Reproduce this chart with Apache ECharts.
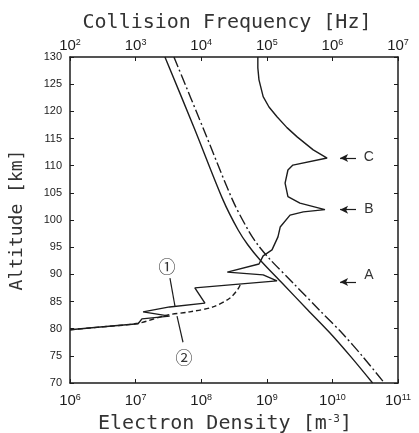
<!DOCTYPE html>
<html>
<head>
<meta charset="utf-8">
<script src="https://cdn.jsdelivr.net/npm/echarts/dist/echarts.min.js"></script>
<style>html,body{margin:0;padding:0;background:#fff}#main{width:419px;height:433px}</style>
</head>
<body>
<div id="main"></div>
<script>
// ---- data ----
const altitudeRange = [70, 130];
const altitudeStep = 5;
const densityRange = [1e6, 1e11];
const frequencyRange = [1e2, 1e7];

// electron density profile (1), solid
const profAlt = [130.0, 128.0, 125.8, 122.7, 120.8, 119.0, 117.0, 115.3, 112.9, 111.4, 110.1, 109.2, 106.8, 104.3, 103.1, 101.9, 101.5, 100.9, 98.7, 96.9, 94.5, 93.4, 91.9, 90.4, 89.9, 88.8, 87.5, 84.7, 84.0, 83.1, 82.3, 81.8, 80.9, 80.3, 79.8];
const profDen = [7.3e8, 7.3e8, 7.6e8, 8.8e8, 1.08e9, 1.43e9, 2.03e9, 2.9e9, 5.1e9, 8.3e9, 2.5e9, 2.1e9, 1.9e9, 2.1e9, 3.2e9, 7.7e9, 3.6e9, 2.26e9, 1.6e9, 1.48e9, 1.2e9, 8.8e8, 7.6e8, 2.5e8, 8.8e8, 1.43e9, 8.0e7, 1.14e8, 3.3e7, 1.3e7, 3.3e7, 1.25e7, 1.09e7, 2.9e6, 1.0e6];

// electron density profile (2), dashed
const dashAlt = [79.8, 80.3, 81.0, 82.5, 83.1, 84.0, 85.65, 87.3, 88.4];
const dashDen = [1.0e6, 2.9e6, 1.1e7, 3.0e7, 6.7e7, 1.51e8, 2.75e8, 3.64e8, 4.05e8];

// collision frequency profiles
const colAlt = [130, 116.8, 103.7, 98.2, 95.4, 92.65, 88.4, 83.4, 79.2, 74.8, 70];
const colSolid = [2.8e3, 7.9e3, 2.15e4, 3.64e4, 5.16e4, 7.9e4, 1.71e5, 4.25e5, 9.2e5, 1.92e6, 4.1e6];
const colDash = [3.84e3, 1.08e4, 3.0e4, 5.17e4, 7.33e4, 1.14e5, 2.52e5, 6.36e5, 1.40e6, 2.93e6, 6.2e6];

// layer markers
const markerNames = ['C', 'B', 'A'];
const markerArrowAlt = [111.4, 101.9, 88.6];
const markerTextAlt = [111.6, 102.0, 89.8];
const markerArrowFrom = 2.29e10, markerArrowTo = 1.31e10, markerTextX = 3.6e10;

// curve labels
const curveLabels = ['\u2460', '\u2461'];
const curveLabelPos = [[3.0e7, 91.5], [5.47e7, 74.6]];
const curveLeaders = [[[3.34e7, 89.3], [4.0e7, 84.0]], [[4.28e7, 82.3], [5.28e7, 77.5]]];

// ---- chart ----
const zip = (xs, ys) => xs.map((x, i) => [x, ys[i]]);
const ink = '#1c1c1c';
const mono = '"DejaVu Sans Mono", monospace';
const sans = '"Liberation Sans", Arial, sans-serif';
const powLabel = v => '{b|10}{s|' + Math.round(Math.log10(v)) + '}';
const powRich = {
  b: {fontSize: 15, fontFamily: sans, color: ink, lineHeight: 16},
  s: {fontSize: 9, fontFamily: sans, color: ink, verticalAlign: 'top', lineHeight: 16}
};

const chart = echarts.init(document.getElementById('main'), null, {renderer: 'canvas'});

const markLineData = [];
curveLeaders.forEach(l => markLineData.push([{coord: l[0], symbol: 'none'}, {coord: l[1], symbol: 'none'}]));
markerArrowAlt.forEach(a => markLineData.push([
  {coord: [markerArrowTo, a], symbol: 'arrow', symbolSize: [6, 8]},
  {coord: [markerArrowFrom, a], symbol: 'none'}
]));

const markPointData = [];
curveLabels.forEach((t, i) => markPointData.push({
  name: t, coord: curveLabelPos[i],
  label: {fontSize: 17, fontFamily: '"Noto Sans CJK SC", "DejaVu Sans", sans-serif'}
}));
markerNames.forEach((t, i) => markPointData.push({
  name: t, coord: [markerTextX, markerTextAlt[i]],
  label: {fontSize: 14, fontFamily: sans}
}));

chart.setOption({
  animation: false,
  backgroundColor: '#fff',
  grid: {left: 70, right: 21, top: 57, bottom: 50, containLabel: false, outerBoundsMode: 'none'},
  xAxis: [{
    type: 'log', logBase: 10, min: densityRange[0], max: densityRange[1], position: 'bottom',
    name: 'Electron Density [m{s|-3}]', nameLocation: 'middle', nameGap: 31,
    nameTextStyle: {fontFamily: mono, fontSize: 20, color: '#333', padding: [0, 18, 0, 0],
      rich: {s: {fontFamily: mono, fontSize: 11, color: '#333', verticalAlign: 'top', lineHeight: 20}}},
    axisLine: {onZero: false, lineStyle: {color: ink, width: 1.5}},
    axisTick: {inside: true, length: 4, lineStyle: {color: ink}},
    axisLabel: {margin: 10, formatter: powLabel, rich: powRich},
    splitLine: {show: false}, minorTick: {show: false}
  }, {
    type: 'log', logBase: 10, min: frequencyRange[0], max: frequencyRange[1], position: 'top',
    name: 'Collision Frequency [Hz]', nameLocation: 'middle', nameGap: 24,
    nameTextStyle: {fontFamily: mono, fontSize: 20, color: '#333', padding: [0, 14, 0, 0]},
    axisLine: {onZero: false, lineStyle: {color: ink, width: 1.5}},
    axisTick: {inside: true, length: 4, lineStyle: {color: ink}},
    axisLabel: {margin: 3, formatter: powLabel, rich: powRich},
    splitLine: {show: false}, minorTick: {show: false}
  }],
  yAxis: [{
    type: 'value', min: altitudeRange[0], max: altitudeRange[1], interval: altitudeStep, position: 'left',
    name: 'Altitude [km]', nameLocation: 'middle', nameGap: 44, nameRotate: 90,
    nameTextStyle: {fontFamily: mono, fontSize: 18, color: '#333'},
    axisLine: {show: true, onZero: false, lineStyle: {color: ink, width: 1.5}},
    axisTick: {show: true, inside: true, length: 4, lineStyle: {color: ink}},
    axisLabel: {margin: 8, fontSize: 11, fontFamily: sans, color: ink},
    splitLine: {show: false}
  }, {
    type: 'value', min: altitudeRange[0], max: altitudeRange[1], interval: altitudeStep, position: 'right',
    axisLine: {show: true, onZero: false, lineStyle: {color: ink, width: 1.5}},
    axisTick: {show: true, inside: true, length: 4, lineStyle: {color: ink}},
    axisLabel: {show: false},
    splitLine: {show: false}
  }],
  series: [{
    type: 'line', xAxisIndex: 0, yAxisIndex: 0, data: zip(profDen, profAlt),
    symbol: 'none', lineStyle: {color: ink, width: 1.4}, silent: true,
    markLine: {silent: true, animation: false, symbol: 'none', label: {show: false},
      lineStyle: {color: ink, width: 1.2, type: 'solid'}, data: markLineData},
    markPoint: {silent: true, animation: false, symbol: 'circle', symbolSize: 1,
      itemStyle: {color: 'rgba(0,0,0,0)'},
      label: {show: true, position: 'inside', formatter: '{b}', color: '#333'}, data: markPointData}
  }, {
    type: 'line', xAxisIndex: 0, yAxisIndex: 0, data: zip(dashDen, dashAlt),
    symbol: 'none', smooth: 0.3, lineStyle: {color: ink, width: 1.4, type: [5, 3]}, silent: true
  }, {
    type: 'line', xAxisIndex: 1, yAxisIndex: 0, data: zip(colSolid, colAlt),
    symbol: 'none', smooth: 0.3, lineStyle: {color: ink, width: 1.4}, silent: true
  }, {
    type: 'line', xAxisIndex: 1, yAxisIndex: 0, data: zip(colDash, colAlt),
    symbol: 'none', smooth: 0.3, lineStyle: {color: ink, width: 1.4, type: [11, 3, 2, 3]}, silent: true
  }]
});
</script>
</body>
</html>
